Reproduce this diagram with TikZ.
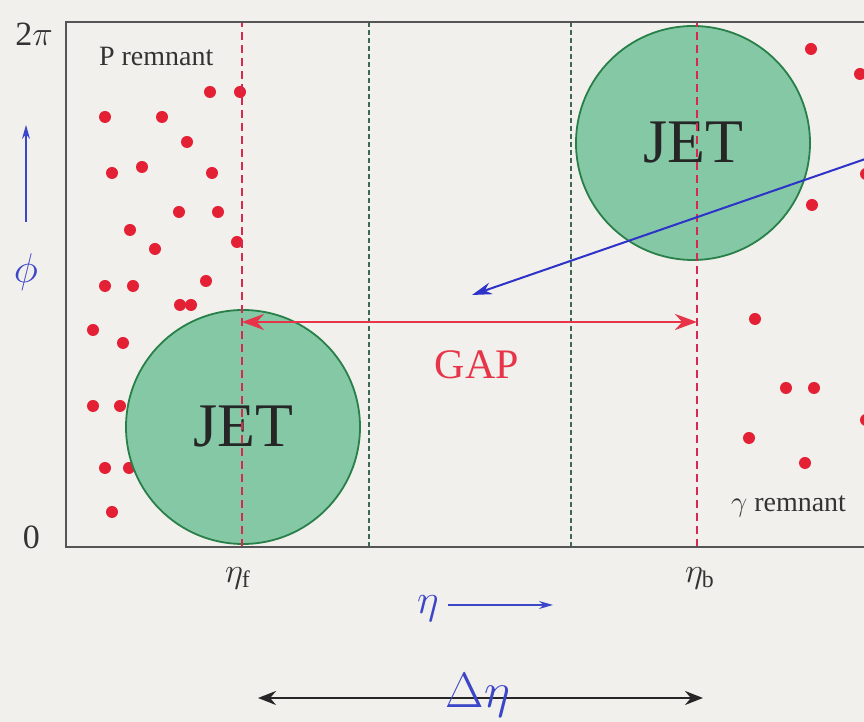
\documentclass[tikz,border=0pt]{standalone}
\usepackage{fontspec}
\setmainfont{Liberation Serif}
\usetikzlibrary{arrows.meta}
\definecolor{Paper}{RGB}{242,240,236}
\definecolor{Frame}{RGB}{85,85,85}
\definecolor{DotRed}{RGB}{228,32,52}
\definecolor{CutRed}{RGB}{215,40,80}
\definecolor{GapRed}{RGB}{232,52,72}
\definecolor{JetFill}{RGB}{132,200,166}
\definecolor{JetLine}{RGB}{40,128,72}
\definecolor{CoreGreen}{RGB}{60,105,80}
\definecolor{AxisBlue}{RGB}{60,70,200}
\definecolor{TrackBlue}{RGB}{45,50,200}

\begin{document}
\begin{tikzpicture}[x=0.5pt,y=0.5pt,
  dot/.style={circle,fill=DotRed,inner sep=0pt,minimum size=6pt},
  jet/.style={circle,draw=JetLine,fill=JetFill,line width=0.9pt,inner sep=0pt,
    minimum size=117pt,font=\fontsize{31}{31}\selectfont,text=black!85},
  cutline/.style={draw=CutRed,line width=0.8pt,dash pattern=on 4pt off 2.5pt},
  coreline/.style={draw=CoreGreen,line width=0.6pt,dash pattern=on 2.5pt off 1.5pt},
  remnant/.style={anchor=base west,font=\fontsize{14}{14}\selectfont,text=black!80},
  tick/.style={font=\fontsize{17}{17}\selectfont,text=black!80},
  axis/.style={text=AxisBlue,font=\fontsize{20}{20}\selectfont}
]
  \clip (0,0) rectangle (864,722);
  \fill[Paper] (0,0) rectangle (864,722);

  % particles outside the jets
  \foreach \x/\y [count=\i] in {210/630,240/630,105/605,162/605,187/580,112/549,
      142/555,212/549,179/510,218/510,130/492,155/473,237/480,105/436,133/436,
      206/441,180/417,191/417,93/392,123/379,93/316,120/316,105/254,112/210,
      129/254,811/673,860/648,812/517,866/548,755/403,786/334,814/334,749/284,
      805/259,866/302}
    \node[dot] (hit\i) at (\x,\y) {};

  % jets
  \node[jet] (jetf) at (243,295) {JET};
  \node[jet] (jetb) at (693,579) {JET};

  % cuts
  \draw[coreline] (369,175) -- (369,700);
  \draw[coreline] (571,175) -- (571,700);
  \draw[cutline] (242,175) -- (242,700);
  \draw[cutline] (697,175) -- (697,700);

  % frame
  \draw[Frame,line width=1pt] (880,700) -- (66,700) -- (66,175) -- (880,175);
  \node[tick,anchor=east] (top) at (60,688) {2$\pi$};
  \node[tick,anchor=east] (zero) at (47,185) {0};

  \node[remnant] (premn) at (92,656) {P remnant};
  \node[remnant] (gremn) at (724,210) {$\gamma$ remnant};

  % gap
  \coordinate (gapl) at (242,400);
  \coordinate (gapr) at (697,400);
  \draw[GapRed,line width=1.4pt,{Stealth[length=11pt,width=8pt]}-{Stealth[length=11pt,width=8pt]}]
    (gapl) -- (gapr);
  \node[text=GapRed,font=\fontsize{21}{21}\selectfont] (gap) at (477,357) {GAP};

  % track
  \coordinate (trks) at (874,566);
  \coordinate (trke) at (472,427);
  \draw[TrackBlue,line width=1pt,-{Stealth[length=10pt,width=6pt]}] (trks) -- (trke);

  % axes
  \node[axis] (phi) at (26,450) {$\phi$};
  \coordinate (phis) at (26,500);
  \coordinate (phie) at (26,597);
  \draw[AxisBlue,line width=0.7pt,-{Stealth[length=7pt,width=4pt]}] (phis) -- (phie);

  \node[tick] (etaf) at (238,144) {$\eta_{\mathrm{f}}$};
  \node[tick] (etab) at (700,144) {$\eta_{\mathrm{b}}$};

  \node[axis] (eta) at (428,113) {$\eta$};
  \coordinate (etae) at (553,117);
  \draw[AxisBlue,line width=0.7pt,-{Stealth[length=7pt,width=4pt]}] ([xshift=1pt]eta.east |- etae) -- (etae);

  % rapidity difference
  \coordinate (dl) at (258,24);
  \coordinate (dr) at (703,24);
  \draw[black!85,line width=1pt,{Stealth[length=9pt,width=7pt]}-{Stealth[length=9pt,width=7pt]}] (dl) -- (dr);
  \node[text=AxisBlue,font=\fontsize{24}{24}\selectfont,anchor=base] (deta) at (478,14) {$\Delta\eta$};
\end{tikzpicture}
\end{document}
